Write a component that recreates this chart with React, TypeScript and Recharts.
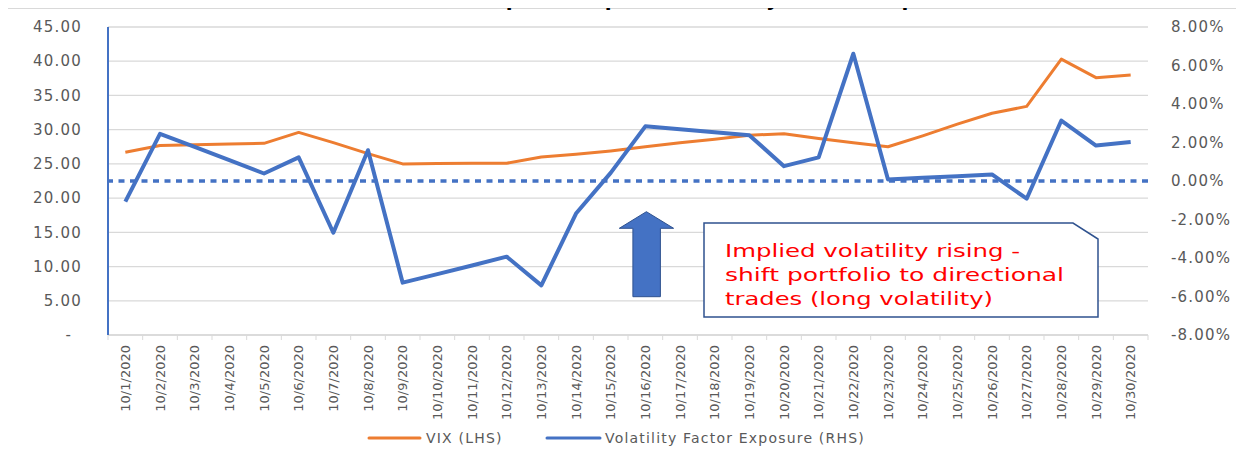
import React from 'react';
import { ComposedChart, Line, XAxis, YAxis, CartesianGrid, ReferenceLine } from 'recharts';

const DATES = [
    '10/1/2020', '10/2/2020', '10/3/2020', '10/4/2020', '10/5/2020', '10/6/2020',
    '10/7/2020', '10/8/2020', '10/9/2020', '10/10/2020', '10/11/2020', '10/12/2020',
    '10/13/2020', '10/14/2020', '10/15/2020', '10/16/2020', '10/17/2020', '10/18/2020',
    '10/19/2020', '10/20/2020', '10/21/2020', '10/22/2020', '10/23/2020', '10/24/2020',
    '10/25/2020', '10/26/2020', '10/27/2020', '10/28/2020', '10/29/2020', '10/30/2020',
];

// VIX level, left axis
const VIX = [
    26.7, 27.7, 27.8, 27.9, 28.0, 29.6, 28.1, 26.5, 25.0, 25.05,
    25.1, 25.1, 26.0, 26.4, 26.9, 27.5, 28.1, 28.6, 29.2, 29.4,
    28.7, 28.1, 27.5, 29.1, 30.8, 32.4, 33.4, 40.3, 37.6, 38.0,
];

// volatility factor exposure in %, right axis
const VOL_EXPOSURE = [
    -1.07, 2.45, 1.77, 1.08, 0.39, 1.23, -2.69, 1.6, -5.28, -4.84,
    -4.39, -3.93, -5.42, -1.69, 0.42, 2.84, 2.69, 2.53, 2.38, 0.77,
    1.23, 6.61, 0.08, 0.17, 0.25, 0.34, -0.92, 3.14, 1.84, 2.03,
];

const LEFT_TICKS = [0, 5, 10, 15, 20, 25, 30, 35, 40, 45];
const RIGHT_TICKS = [-8, -6, -4, -2, 0, 2, 4, 6, 8];

const TITLE = 'October 2020 Implied Capital Volatility Factor Exposure';
const NOTE_LINES = ['Implied volatility rising -', 'shift portfolio to directional', 'trades (long volatility)'];
const NOTE_WIDTHS = [295, 339, 268];

const ORANGE = '#ED7D31';
const BLUE = '#4472C4';
const DARK_BLUE = '#2F528F';
const GRID = '#D9D9D9';
const LABEL = '#595959';
const FONT = '"DejaVu Sans", sans-serif';

const W = 1244;
const H = 457;
const PLOT_LEFT = 108;
const PLOT_RIGHT = 1148;
const STEP = (PLOT_RIGHT - PLOT_LEFT) / DATES.length;

const chartData = DATES.map((date, i) => ({ date, vix: VIX[i], exposure: VOL_EXPOSURE[i] }));

function DateTick({ x, y, payload, index }: any) {
    const half = STEP / 2;
    const axisY = y - 10;
    return (
        <g>
            <line x1={x - half} x2={x - half} y1={axisY} y2={axisY + 5} stroke={GRID} />
            {index === DATES.length - 1 && (
                <line x1={x + half} x2={x + half} y1={axisY} y2={axisY + 5} stroke={GRID} />
            )}
            <text
                x={x}
                y={y}
                transform={`rotate(-90, ${x}, ${y})`}
                textAnchor="end"
                dy="0.35em"
                fontSize={13}
                fill={LABEL}
                fontFamily={FONT}
            >
                {payload.value}
            </text>
        </g>
    );
}

function LeftTick({ x, y, payload }: any) {
    const zero = payload.value === 0;
    return (
        <text x={zero ? x - 10 : x} y={y} dy="0.35em" textAnchor="end" fontSize={15}
            letterSpacing={1.2} fill={LABEL} fontFamily={FONT}>
            {zero ? '-' : payload.value.toFixed(2)}
        </text>
    );
}

function RightTick({ x, y, payload }: any) {
    return (
        <text x={x} y={y} dy="0.35em" textAnchor="start" fontSize={15}
            letterSpacing={1.2} fill={LABEL} fontFamily={FONT}>
            {payload.value.toFixed(2) + '%'}
        </text>
    );
}

export default function App() {
    return (
        <div style={{ position: 'relative', width: W, height: H, margin: -8, overflow: 'hidden', background: '#fff', fontFamily: FONT }}>
            {/* chart frame, runs off the right and bottom */}
            <div style={{ position: 'absolute', left: 7, top: 7.5, width: W + 20, height: H + 20, border: `1px solid ${GRID}` }} />

            <div style={{ position: 'absolute', left: 0, top: 0 }}>
                <ComposedChart width={W} height={H} data={chartData} margin={{ top: 27, right: 0, bottom: 0, left: 0 }}>
                    <CartesianGrid yAxisId="left" vertical={false} stroke={GRID} strokeWidth={1.3} />
                    <XAxis
                        dataKey="date"
                        interval={0}
                        height={122}
                        padding={{ left: STEP / 2, right: STEP / 2 }}
                        tickSize={5}
                        tickMargin={5}
                        tickLine={false}
                        axisLine={{ stroke: GRID, strokeWidth: 1.3 }}
                        tick={<DateTick />}
                    />
                    <YAxis
                        yAxisId="left"
                        width={108}
                        domain={[0, 45]}
                        ticks={LEFT_TICKS}
                        tickSize={0}
                        tickMargin={26}
                        tickLine={false}
                        axisLine={{ stroke: BLUE, strokeWidth: 2 }}
                        tick={<LeftTick />}
                    />
                    <YAxis
                        yAxisId="right"
                        orientation="right"
                        width={96}
                        domain={[-8, 8]}
                        ticks={RIGHT_TICKS}
                        tickSize={0}
                        tickMargin={23}
                        tickLine={false}
                        axisLine={false}
                        tick={<RightTick />}
                    />
                    <ReferenceLine yAxisId="right" y={0} stroke={BLUE} strokeWidth={3.5} strokeDasharray="6 5.5" />
                    <Line yAxisId="left" dataKey="vix" stroke={ORANGE} strokeWidth={3} dot={false}
                        strokeLinejoin="round" isAnimationActive={false} />
                    <Line yAxisId="right" dataKey="exposure" stroke={BLUE} strokeWidth={4} dot={false}
                        strokeLinejoin="round" isAnimationActive={false} />
                </ComposedChart>
            </div>

            <svg width={W} height={H} style={{ position: 'absolute', left: 0, top: 0, pointerEvents: 'none' }}>
                {/* title, mostly cut off at the top like the source screenshot */}
                <text x={644} y={6} textAnchor="middle" fontSize={20} fontWeight="bold" letterSpacing={1} fill="#000" fontFamily={FONT}>
                    {TITLE}
                </text>

                {/* up arrow */}
                <polygon
                    points="646.4,211.7 673.6,228.3 660.4,228.3 660.4,296.7 632.9,296.7 632.9,228.3 619.3,228.3"
                    fill={BLUE}
                    stroke={DARK_BLUE}
                    strokeWidth={1}
                />

                {/* callout box with snipped corner */}
                <polygon
                    points="704,223 1073,223 1098,239 1098,317 704,317"
                    fill="#fff"
                    stroke={DARK_BLUE}
                    strokeWidth={1.5}
                />
                {NOTE_LINES.map((line, i) => (
                    <text key={line} x={725} y={257 + i * 24} fontSize={18} fill="#FF0000" fontFamily={FONT}
                        textLength={NOTE_WIDTHS[i]} lengthAdjust="spacingAndGlyphs">
                        {line}
                    </text>
                ))}

                {/* legend */}
                <line x1={369} x2={420} y1={438} y2={438} stroke={ORANGE} strokeWidth={3} strokeLinecap="round" />
                <text x={426} y={438} dy="0.35em" fontSize={14} letterSpacing={1.2} fill={LABEL} fontFamily={FONT}>VIX (LHS)</text>
                <line x1={547} x2={600} y1={438} y2={438} stroke={BLUE} strokeWidth={3} strokeLinecap="round" />
                <text x={605} y={438} dy="0.35em" fontSize={14} letterSpacing={1.2} fill={LABEL} fontFamily={FONT}>Volatility Factor Exposure (RHS)</text>
            </svg>
        </div>
    );
}
